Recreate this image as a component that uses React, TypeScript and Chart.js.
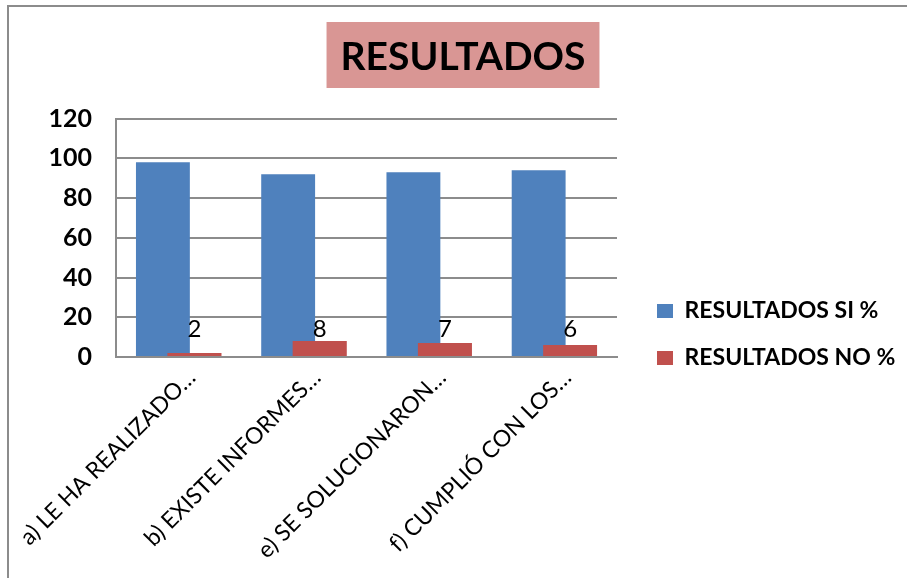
import React, { useEffect, useRef } from 'react';
import { Chart, registerables } from 'chart.js';

Chart.register(...registerables);

// ---- data ----
const TITLE = 'RESULTADOS';
const CATEGORIES = [
  'a) LE HA REALIZADO…',
  'b) EXISTE INFORMES…',
  'e) SE SOLUCIONARON…',
  'f) CUMPLIÓ CON LOS…',
];
const SERIES_NAMES = ['RESULTADOS SI %', 'RESULTADOS NO %'];
const SI_VALUES = [98, 92, 93, 94];
const NO_VALUES = [2, 8, 7, 6];
const Y_TICKS = [0, 20, 40, 60, 80, 100, 120];

// ---- styles ----
const W = 907;
const H = 578;
const FONT = 'Lato';
const BLUE = '#4F81BD';
const RED = '#C0504D';
const PINK = '#D99694';
const GRID = '#8C8C8C';
const LABEL_LEVEL = 14;
const TITLE_SIZE = 39;

const App: React.FC = () => {
  const ref = useRef<HTMLCanvasElement | null>(null);

  useEffect(() => {
    const canvas = ref.current;
    if (!canvas) return;

    // layout targets
    const chartLeft = 116;
    const chartRight = 617;
    const chartBottom = 357;
    const legendLeft = 633;
    const legendPad = 24;
    const legendFont = 23;
    const legendBox = 16;
    const titleCenter = 463;

    const m = document.createElement('canvas').getContext('2d')!;
    m.font = `bold ${legendFont}px ${FONT}`;
    const tw = Math.max(...SERIES_NAMES.map((s) => m.measureText(s).width));
    const legendW = legendPad + legendBox + legendFont / 2 + tw + 10;
    const padR = Math.max(0, W - legendLeft - legendW);
    const padL = padR + 2 * titleCenter - W;

    const titleLH = TITLE_SIZE * 1.2;
    const titlePadTop = 57 - titleLH / 2;
    const titlePadBottom = 118.5 - titlePadTop - titleLH;

    const framePlugin = {
      id: 'frameAndTitleBox',
      beforeDraw(chart: any) {
        const ctx = chart.ctx as CanvasRenderingContext2D;
        ctx.save();
        ctx.fillStyle = '#ffffff';
        ctx.fillRect(0, 0, W, H);
        ctx.strokeStyle = GRID;
        ctx.lineWidth = 2;
        ctx.beginPath();
        ctx.moveTo(8, H);
        ctx.lineTo(8, 6);
        ctx.lineTo(W, 6);
        ctx.stroke();
        const tb = chart.titleBlock;
        if (tb) {
          ctx.font = `bold ${TITLE_SIZE}px ${FONT}`;
          const w = ctx.measureText(TITLE).width;
          const cx = (tb.left + tb.right) / 2;
          const cy = tb.top + titlePadTop + titleLH / 2;
          ctx.fillStyle = PINK;
          ctx.fillRect(cx - w / 2 - 14, cy - 35, w + 28, 66);
        }
        ctx.restore();
      },
      afterDatasetsDraw(chart: any) {
        // red series drawn over the blue one where they overlap
        const meta = chart.getDatasetMeta(1);
        meta.controller.draw();
        const ctx = chart.ctx as CanvasRenderingContext2D;
        const y = chart.scales.y.getPixelForValue(LABEL_LEVEL);
        ctx.save();
        ctx.font = `24px ${FONT}`;
        ctx.fillStyle = '#000';
        ctx.textAlign = 'center';
        ctx.textBaseline = 'middle';
        meta.data.forEach((bar: any, i: number) => {
          ctx.fillText(String(NO_VALUES[i]), bar.x, y);
        });
        ctx.restore();
      },
    };

    // legend title height so the legend rows sit at the reference height
    const rowCenter = 311;
    const itemH = legendFont;
    const colH = 2 * (itemH + legendPad);
    const legendTitleH = 2 * (rowCenter - itemH / 2) - legendPad - (H - colH);

    const chart = new Chart(canvas, {
      type: 'bar',
      data: {
        labels: CATEGORIES,
        datasets: [
          {
            label: SERIES_NAMES[0],
            data: SI_VALUES,
            backgroundColor: BLUE,
            borderWidth: 0,
            categoryPercentage: 0.502,
            barPercentage: 1.714,
          },
          {
            label: SERIES_NAMES[1],
            data: NO_VALUES,
            backgroundColor: RED,
            borderWidth: 0,
            categoryPercentage: 0.502,
            barPercentage: 1.714,
          },
        ],
      },
      options: {
        animation: false,
        responsive: false,
        devicePixelRatio: 1,
        layout: { padding: { left: padL, right: padR, top: 0, bottom: 0 } },
        plugins: {
          title: {
            display: true,
            text: TITLE,
            color: '#000',
            font: { family: FONT, size: TITLE_SIZE, weight: 'bold' },
            padding: { top: titlePadTop, bottom: titlePadBottom },
          },
          legend: {
            position: 'right',
            align: 'center',
            maxWidth: 400,
            labels: {
              color: '#000',
              font: { family: FONT, size: legendFont, weight: 'bold' },
              boxWidth: legendBox,
              boxHeight: 14,
              padding: legendPad,
            },
            title: {
              display: true,
              text: '',
              font: { size: 10 },
              padding: { top: legendTitleH - 12, bottom: 0 },
            },
          },
          tooltip: { enabled: false },
        },
        scales: {
          x: {
            grid: { display: false, drawTicks: false },
            border: { display: true, color: GRID, width: 2 },
            ticks: {
              autoSkip: false,
              minRotation: 45,
              maxRotation: 45,
              labelOffset: 13,
              padding: 7,
              color: '#000',
              font: { family: FONT, size: 23 },
            },
            afterFit: (s: any) => {
              s.height = H - chartBottom;
              s.paddingLeft = 0;
              s.paddingRight = 0;
            },
          },
          y: {
            min: Y_TICKS[0],
            max: Y_TICKS[Y_TICKS.length - 1],
            ticks: {
              stepSize: Y_TICKS[1] - Y_TICKS[0],
              padding: 24,
              color: '#000',
              font: { family: FONT, size: 25, weight: 'bold' },
            },
            grid: { color: GRID, lineWidth: 2, drawTicks: false },
            border: { display: true, color: GRID, width: 2 },
            afterFit: (s: any) => {
              s.width = chartLeft - padL;
            },
          },
          yR: {
            position: 'right',
            display: true,
            grid: { display: false, drawTicks: false },
            ticks: { display: false },
            border: { display: false },
            afterFit: (s: any) => {
              s.width = legendLeft - chartRight;
            },
          },
        },
      } as any,
      plugins: [framePlugin],
    });

    return () => chart.destroy();
  }, []);

  return (
    <div style={{ position: 'absolute', left: 0, top: 0, width: W, height: H, background: '#fff' }}>
      <canvas ref={ref} width={W} height={H} style={{ width: W, height: H, display: 'block' }} />
    </div>
  );
};

export default App;
